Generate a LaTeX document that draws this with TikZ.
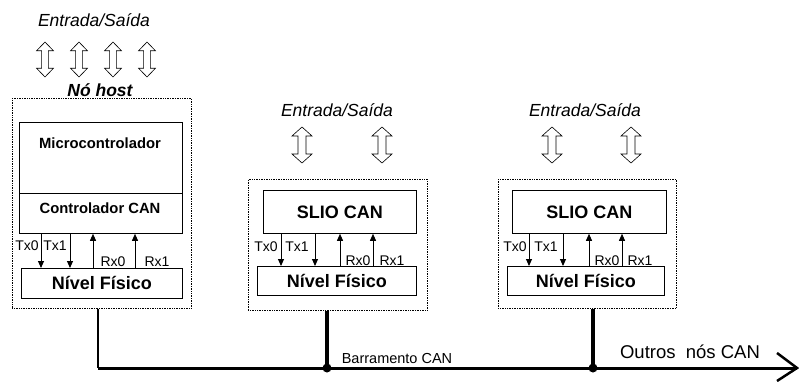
\documentclass[tikz,border=0pt]{standalone}
\usepackage{fontspec}
\setmainfont{Liberation Sans}
\usetikzlibrary{arrows.meta}
\tikzset{
  dotbox/.style={draw, densely dotted, line width=0.7pt, inner sep=0, anchor=north west},
  blk/.style={draw, line width=0.8pt, inner sep=0, anchor=north west, font=\fontsize{18}{18}\selectfont\bfseries},
  sig/.style={-{Triangle[length=7pt,width=6pt]}, line width=0.9pt},
  lbl/.style={font=\fontsize{14}{14}\selectfont, inner sep=0},
  iotxt/.style={font=\fontsize{17.5}{17.5}\selectfont\itshape, inner sep=0},
  mctxt/.style={font=\fontsize{14.8}{14.8}\selectfont\bfseries, inner sep=0},
  bus/.style={line width=3pt},
  dbl/.pic={\draw[line width=0.6pt, fill=white]
     (0,-18) -- (10,-9) -- (4,-9) -- (4,9) -- (10,9) -- (0,18) -- (-10,9) -- (-4,9) -- (-4,-9) -- (-10,-9) -- cycle;}
}
\begin{document}
\begin{tikzpicture}[x=1pt,y=-1pt]
\useasboundingbox (0,0) rectangle (799,381);

% ---------------- host node ----------------
\node[iotxt] (io1) at (94,20) {Entrada/Saída};
\foreach \x/\n in {45/a,79/b,113/c,147/d}
  \pic[xscale=0.85, yscale=0.97] (h\n) at (\x,59.5) {dbl};
\node[font=\fontsize{17.5}{17.5}\selectfont\bfseries\itshape, inner sep=0] (hostlbl) at (100,90) {Nó host};
\node[dotbox, minimum width=179, minimum height=210] (host) at (12,98) {};
\node[blk, minimum width=163, minimum height=111] (mc) at (19,122) {};
\draw[line width=0.8pt] (mc.west |- 0,193) -- (mc.east |- 0,193);
\node[mctxt] (mctext) at (100,143) {Microcontrolador};
\node[mctxt] (cantext) at (100,208) {Controlador CAN};
\node[blk, minimum width=161, minimum height=30] (nf1) at (21,268) {Nível Físico};
\draw[sig] (41,0 |- mc.south) -- (41,0 |- nf1.north);
\draw[sig] (70,0 |- mc.south) -- (70,0 |- nf1.north);
\draw[sig] (93,0 |- nf1.north) -- (93,0 |- mc.south);
\draw[sig] (135,0 |- nf1.north) -- (135,0 |- mc.south);
\node[lbl] (t0a) at (27,246) {Tx0};
\node[lbl] (t1a) at (55,246) {Tx1};
\node[lbl] (r0a) at (113,262) {Rx0};
\node[lbl] (r1a) at (157,262) {Rx1};

% ---------------- middle node ----------------
\node[iotxt] (io2) at (337,110) {Entrada/Saída};
\pic (m1) at (302,145) {dbl};
\pic (m2) at (382,145) {dbl};
\node[dotbox, minimum width=179, minimum height=131] (mid) at (248,179) {};
\node[blk, minimum width=153, minimum height=43] (slio2) at (263,190) {SLIO CAN};
\node[blk, minimum width=159, minimum height=29] (nf2) at (257,266) {Nível Físico};
\draw[sig] (281,0 |- slio2.south) -- (281,0 |- nf2.north);
\draw[sig] (315,0 |- slio2.south) -- (315,0 |- nf2.north);
\draw[sig] (340,0 |- nf2.north) -- (340,0 |- slio2.south);
\draw[sig] (373,0 |- nf2.north) -- (373,0 |- slio2.south);
\node[lbl] (t0b) at (266,247) {Tx0};
\node[lbl] (t1b) at (297,247) {Tx1};
\node[lbl] (r0b) at (358,261) {Rx0};
\node[lbl] (r1b) at (392,261) {Rx1};

% ---------------- right node ----------------
\node[iotxt] (io3) at (585,110) {Entrada/Saída};
\pic (r1) at (552,145) {dbl};
\pic (r2) at (631,145) {dbl};
\node[dotbox, minimum width=178, minimum height=129] (rgt) at (498,179) {};
\node[blk, minimum width=154, minimum height=43] (slio3) at (512,190) {SLIO CAN};
\node[blk, minimum width=157, minimum height=29] (nf3) at (507,266) {Nível Físico};
\draw[sig] (529,0 |- slio3.south) -- (529,0 |- nf3.north);
\draw[sig] (563,0 |- slio3.south) -- (563,0 |- nf3.north);
\draw[sig] (589,0 |- nf3.north) -- (589,0 |- slio3.south);
\draw[sig] (622,0 |- nf3.north) -- (622,0 |- slio3.south);
\node[lbl] (t0c) at (515,247) {Tx0};
\node[lbl] (t1c) at (546,247) {Tx1};
\node[lbl] (r0c) at (607,261) {Rx0};
\node[lbl] (r1c) at (640,261) {Rx1};

% ---------------- bus ----------------
\coordinate (b0) at (98,368);
\coordinate (b1) at (327,368);
\coordinate (b2) at (593,368);
\coordinate (bend) at (797,368);
\draw[line width=2.5pt] (98,0 |- host.south) -- (b0);
\draw[bus] (b0) -- (bend);
\draw[line width=4pt] (327,0 |- mid.south) -- (b1);
\draw[line width=4pt] (593,0 |- rgt.south) -- (b2);
\fill (b1) circle (4.5);
\fill (b2) circle (4.5);
\draw[line width=2.5pt] (777,353) -- (bend) -- (777,381);
\node[font=\fontsize{14.5}{14.5}\selectfont, inner sep=0] (buslbl) at (397,358) {Barramento CAN};
\node[font=\fontsize{18.5}{18.5}\selectfont, inner sep=0] (outros) at (690,352) {Outros\ \ nós CAN};
\end{tikzpicture}
\end{document}
